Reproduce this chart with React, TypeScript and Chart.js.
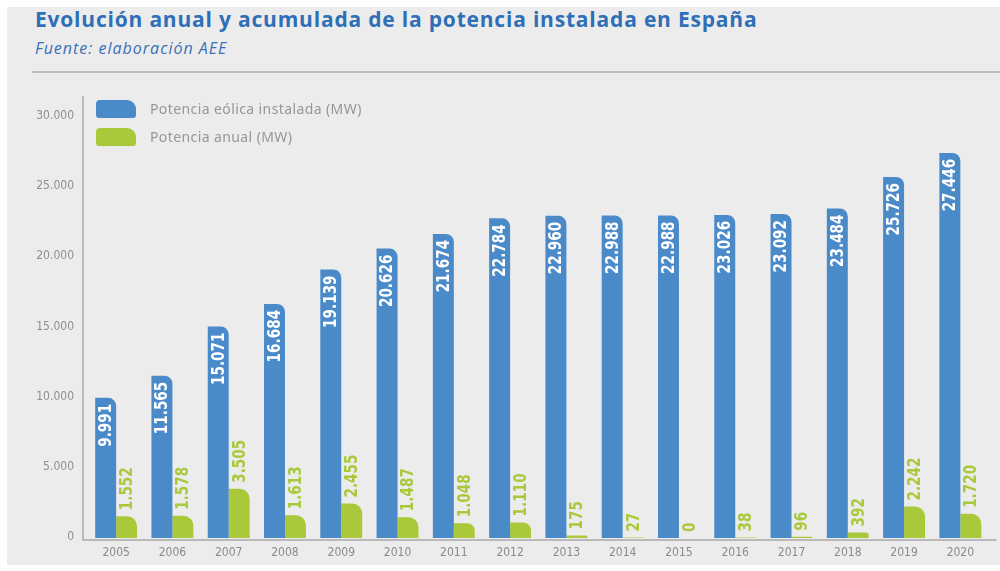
import React, { useEffect, useRef } from "react";
import { Chart, registerables } from "chart.js";

Chart.register(...registerables);

const years = ["2005","2006","2007","2008","2009","2010","2011","2012","2013","2014","2015","2016","2017","2018","2019","2020"];
const acumulada = [9991, 11565, 15071, 16684, 19139, 20626, 21674, 22784, 22960, 22988, 22988, 23026, 23092, 23484, 25726, 27446];
const anual = [1552, 1578, 3505, 1613, 2455, 1487, 1048, 1110, 175, 27, 0, 38, 96, 392, 2242, 1720];
const seriesNames = ["Potencia eólica instalada (MW)", "Potencia anual (MW)"];
const yTicks = [0, 5000, 10000, 15000, 20000, 25000, 30000];

const BLUE = "#4a8ac9";
const GREEN = "#a9c93b";
const LABEL_FONT = "bold 17px 'DejaVu Sans', sans-serif";
const TICK_FAMILY = "'DejaVu Sans Condensed', 'DejaVu Sans', sans-serif";

const fmt = (v: number) => String(v).replace(/\B(?=(\d{3})+(?!\d))/g, ".");

const labelPlugin = {
  id: "barLabels",
  afterDatasetsDraw(chart: any) {
    const ctx = chart.ctx;
    ctx.save();
    ctx.font = LABEL_FONT;
    ctx.textBaseline = "middle";
    chart.data.datasets.forEach((ds: any, di: number) => {
      const meta = chart.getDatasetMeta(di);
      meta.data.forEach((el: any, i: number) => {
        const v = ds.data[i];
        ctx.save();
        if (di === 0) {
          ctx.translate(el.x, el.y + 6);
          ctx.rotate(-Math.PI / 2);
          ctx.scale(0.8, 1);
          ctx.textAlign = "right";
          ctx.fillStyle = "#ffffff";
        } else {
          ctx.translate(el.x, el.y - 6);
          ctx.rotate(-Math.PI / 2);
          ctx.scale(0.8, 1);
          ctx.textAlign = "left";
          ctx.fillStyle = GREEN;
        }
        ctx.fillText(fmt(v), 0, 1);
        ctx.restore();
      });
    });
    ctx.restore();
  },
};

const axisPlugin = {
  id: "customAxes",
  beforeDatasetsDraw(chart: any) {
    const { ctx, chartArea } = chart;
    ctx.save();
    ctx.strokeStyle = "#a8a8a8";
    ctx.lineWidth = 1.5;
    ctx.beginPath();
    const x0 = chartArea.left - 5;
    const yb = chartArea.bottom + 2;
    ctx.moveTo(x0, chartArea.top);
    ctx.lineTo(x0, yb);
    ctx.lineTo(chartArea.right + 8, yb);
    ctx.stroke();
    ctx.restore();
  },
};

export default function App() {
  const ref = useRef<HTMLCanvasElement>(null);
  useEffect(() => {
    if (!ref.current) return;
    const chart = new Chart(ref.current, {
      type: "bar",
      data: {
        labels: years,
        datasets: [
          {
            label: seriesNames[0],
            data: acumulada,
            backgroundColor: BLUE,
            borderRadius: { topLeft: 0, topRight: 8, bottomLeft: 0, bottomRight: 0 },
            borderSkipped: false,
            categoryPercentage: 0.745,
            barPercentage: 1,
          },
          {
            label: seriesNames[1],
            data: anual,
            backgroundColor: GREEN,
            borderRadius: { topLeft: 0, topRight: 10, bottomLeft: 0, bottomRight: 0 },
            borderSkipped: false,
            categoryPercentage: 0.745,
            barPercentage: 1,
          },
        ],
      },
      options: {
        animation: false,
        responsive: false,
        maintainAspectRatio: false,
        layout: { padding: { top: 16, right: 11.5, left: 0, bottom: 0 } },
        plugins: { legend: { display: false }, tooltip: { enabled: false } },
        scales: {
          x: {
            grid: { display: false, drawTicks: false },
            border: { display: false },
            ticks: {
              padding: 8,
              color: "#8a8a8a",
              font: { family: TICK_FAMILY, size: 12 },
            },
            afterFit: (s: any) => {
              s.height = 27;
              s.paddingLeft = 0;
              s.paddingRight = 0;
            },
          },
          y: {
            min: 0,
            max: 31500,
            grid: { display: false, drawTicks: false },
            border: { display: false },
            afterBuildTicks: (s: any) => {
              s.ticks = yTicks.map((v) => ({ value: v }));
            },
            ticks: {
              padding: 14,
              labelOffset: -1,
              color: "#8f8f8f",
              font: { family: TICK_FAMILY, size: 12 },
              callback: (v: any) => fmt(Number(v)),
            },
            afterFit: (s: any) => {
              s.width = 81;
              s.paddingTop = 0;
              s.paddingBottom = 0;
            },
          },
        },
      },
      plugins: [axisPlugin, labelPlugin],
    });
    return () => chart.destroy();
  }, []);

  const legendItem = (color: string, text: string, top: number) => (
    <>
      <div style={{ position: "absolute", left: 96, top, width: 40, height: 18, background: color, borderRadius: "4px 9px 3px 3px" }} />
      <div style={{ position: "absolute", left: 150, top: top, height: 18, lineHeight: "18px", fontFamily: "'Noto Sans', sans-serif", fontSize: 14, letterSpacing: "0.4px", color: "#979797", whiteSpace: "nowrap" }}>{text}</div>
    </>
  );

  return (
    <div style={{ position: "fixed", left: 0, top: 0, width: 1000, height: 571, background: "#ffffff", overflow: "hidden" }}>
      <div style={{ position: "absolute", left: 7, top: 7, width: 993, height: 558, background: "#ececec" }} />
      <div style={{ position: "absolute", left: 35, top: 9, fontFamily: "'Open Sans', sans-serif", fontWeight: 700, fontSize: 21, letterSpacing: "0.8px", lineHeight: 1, color: "#2f6fb7", whiteSpace: "nowrap" }}>
        Evolución anual y acumulada de la potencia instalada en España
      </div>
      <div style={{ position: "absolute", left: 35, top: 40, fontFamily: "'Open Sans', sans-serif", fontStyle: "italic", fontSize: 16, letterSpacing: "1px", lineHeight: 1, color: "#3a70b8", whiteSpace: "nowrap" }}>
        Fuente: elaboración AEE
      </div>
      <div style={{ position: "absolute", left: 32, top: 71, width: 968, height: 2, background: "#bdbdbd" }} />
      <canvas ref={ref} width={993} height={485} style={{ position: "absolute", left: 7, top: 80, width: 993, height: 485 }} />
      {legendItem(BLUE, seriesNames[0], 100)}
      {legendItem(GREEN, seriesNames[1], 128)}
    </div>
  );
}
